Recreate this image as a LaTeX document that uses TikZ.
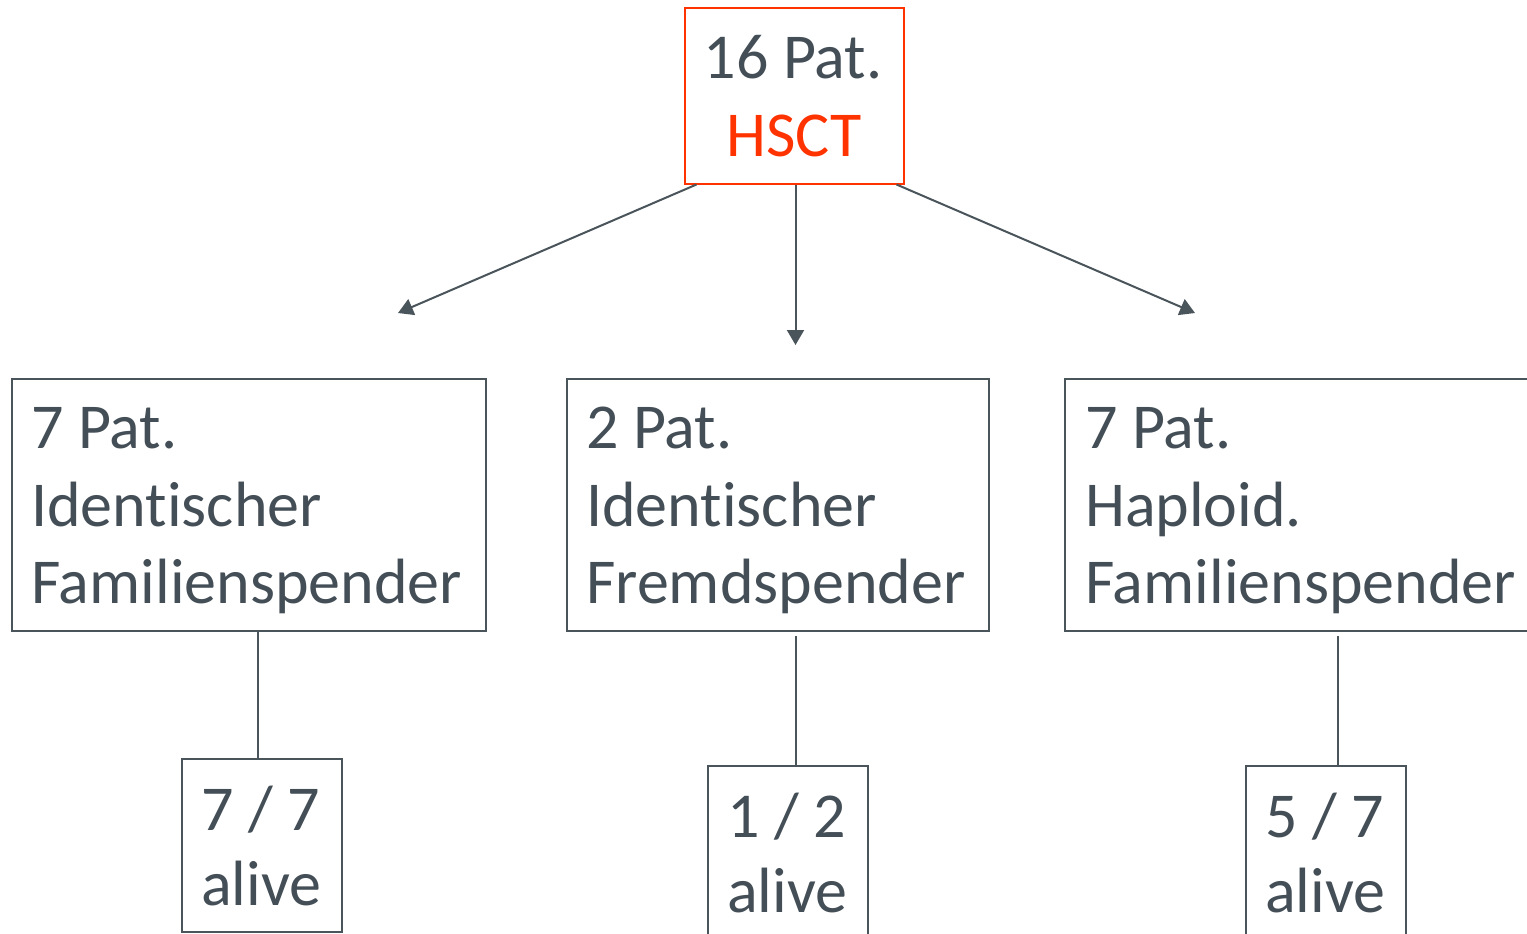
\documentclass[tikz,border=0pt]{standalone}
\usepackage{fontspec}
\setmainfont{Carlito}[Ligatures=NoCommon]
\usetikzlibrary{arrows.meta}
\definecolor{ink}{HTML}{434E56}
\definecolor{frame}{HTML}{4A545B}
\definecolor{hot}{HTML}{FF3300}
\tikzset{
  x=1pt, y=-1pt,
  box/.style={draw=frame, line width=2pt, rectangle, inner sep=0pt, anchor=north west},
  hotbox/.style={box, draw=hot},
  txt/.style={font=\fontsize{64}{77}\selectfont, text=ink, inner sep=0pt, anchor=base west},
  ctxt/.style={txt, anchor=base},
  link/.style={draw=frame, line width=2pt},
  arrow/.style={link, -{Triangle[length=15pt,width=17pt]}}
}
\begin{document}
\begin{tikzpicture}
\useasboundingbox (0,0) rectangle (1527,934);
\clip (0,0) rectangle (1527,934);

% root
\node[hotbox, minimum width=219pt, minimum height=175pt] (root) at (683.5,7.5) {};
\node[ctxt] (rootA) at (793,78) {16 Pat.};
\node[ctxt, text=hot] (rootB) at (794,156) {HSCT};

% donor groups
\node[box, minimum width=474pt, minimum height=252pt] (fam) at (10.5,377.5) {};
\node[txt] (famA) at (31,448) {7 Pat.};
\node[txt] (famB) at (31,526) {Identischer};
\node[txt] (famC) at (31,603) {Familienspender};

\node[box, minimum width=422pt, minimum height=252pt] (frm) at (565.5,377.5) {};
\node[txt] (frmA) at (586,448) {2 Pat.};
\node[txt] (frmB) at (586,526) {Identischer};
\node[txt] (frmC) at (586,603) {Fremdspender};

\node[box, minimum width=480pt, minimum height=252pt] (hap) at (1063.5,377.5) {};
\node[txt] (hapA) at (1085,448) {7 Pat.};
\node[txt] (hapB) at (1085,526) {Haploid.};
\node[txt] (hapC) at (1085,603) {Familienspender};

% outcomes
\node[box, minimum width=160pt, minimum height=173pt] (famO) at (180.5,757.5) {};
\node[txt] (famOa) at (201,830) {7 / 7};
\node[txt] (famOb) at (201,905) {alive};

\node[box, minimum width=160pt, minimum height=190pt] (frmO) at (706.5,764.5) {};
\node[txt] (frmOa) at (727,837) {1 / 2};
\node[txt] (frmOb) at (727,912) {alive};

\node[box, minimum width=160pt, minimum height=190pt] (hapO) at (1244.5,764.5) {};
\node[txt] (hapOa) at (1265,837) {5 / 7};
\node[txt] (hapOb) at (1265,912) {alive};

% arrow tips
\coordinate (tipL) at (398,313);
\coordinate (tipM) at (795.5,345);
\coordinate (tipR) at (1195,313);
\draw[arrow] (root.south west) ++(13,0) coordinate (srcL) -- (tipL);
\draw[arrow] (root.south -| tipM) -- (tipM);
\draw[arrow] (root.south east) ++(-8,0) coordinate (srcR) -- (tipR);

% connectors to outcomes
\coordinate (famS) at (257.5,630);
\draw[link] (famS) -- (famS |- famO.north);
\coordinate (frmS) at (795.5,636);
\draw[link] (frmS) -- (frmS |- frmO.north);
\coordinate (hapS) at (1337.5,636);
\draw[link] (hapS) -- (hapS |- hapO.north);
\end{tikzpicture}
\end{document}
